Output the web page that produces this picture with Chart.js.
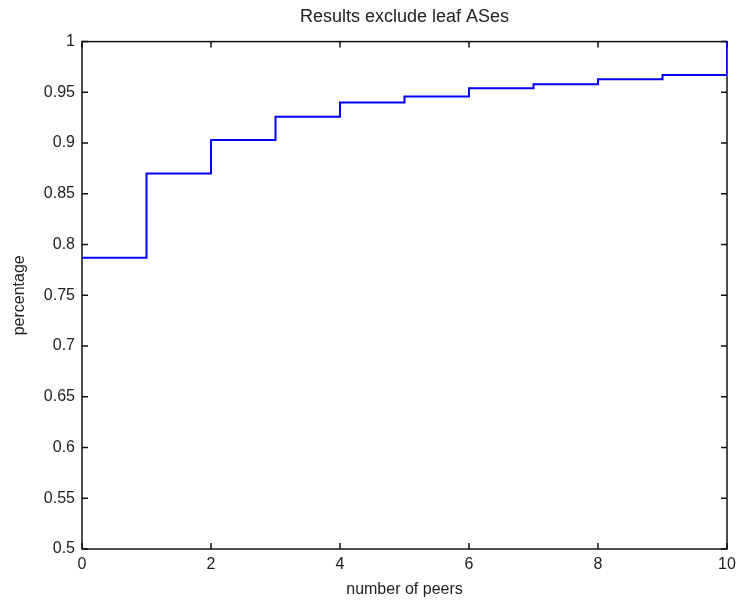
<!DOCTYPE html>
<html>
<head>
<meta charset="utf-8">
<script src="https://cdn.jsdelivr.net/npm/chart.js@4.4.0/dist/chart.umd.min.js"></script>
<style>
  html, body { margin: 0; padding: 0; background: #fff; }
  #wrap { width: 738px; height: 601px; }
</style>
</head>
<body>
<div id="wrap"><canvas id="peerChart" width="738" height="601"></canvas></div>
<script>
// values
const peers = [0, 1, 2, 3, 4, 5, 6, 7, 8, 9, 10];
const share = [0.787, 0.870, 0.903, 0.926, 0.940, 0.946, 0.954, 0.958, 0.963, 0.967, 1.0];
const xTicks = [0, 2, 4, 6, 8, 10];
const yTicks = [0.5, 0.55, 0.6, 0.65, 0.7, 0.75, 0.8, 0.85, 0.9, 0.95, 1];

const txt = '#222';
const fontName = '"Liberation Sans", Arial, Helvetica, sans-serif';

// box round the plot with inward ticks on all four sides, matlab style
const frame = {
    id: 'frame',
    beforeDatasetsDraw(chart) {
        const { ctx, chartArea: a, scales } = chart;
        const len = 6;
        ctx.save();
        ctx.strokeStyle = '#111';
        ctx.lineWidth = 1.5;
        ctx.strokeRect(a.left, a.top, a.right - a.left, a.bottom - a.top);
        ctx.beginPath();
        xTicks.forEach(v => {
            const px = scales.x.getPixelForValue(v);
            ctx.moveTo(px, a.bottom); ctx.lineTo(px, a.bottom - len);
            ctx.moveTo(px, a.top); ctx.lineTo(px, a.top + len);
        });
        yTicks.forEach(v => {
            const py = scales.y.getPixelForValue(v);
            ctx.moveTo(a.left, py); ctx.lineTo(a.left + len, py);
            ctx.moveTo(a.right, py); ctx.lineTo(a.right - len, py);
        });
        ctx.stroke();
        ctx.restore();
    }
};

new Chart(document.getElementById('peerChart'), {
    type: 'line',
    data: {
        datasets: [{
            data: peers.map((p, i) => ({ x: p, y: share[i] })),
            borderColor: '#0000ff',
            borderWidth: 2,
            pointRadius: 0,
            stepped: 'before',
            fill: false
        }]
    },
    options: {
        responsive: false,
        animation: false,
        layout: { padding: { left: 0, right: 11, top: 0, bottom: 0 } },
        plugins: {
            legend: { display: false },
            tooltip: { enabled: false },
            title: {
                display: true,
                text: 'Results exclude leaf ASes',
                fullSize: false,
                color: txt,
                font: { family: fontName, size: 18, weight: 'normal' },
                padding: { top: 6, bottom: 14 }
            }
        },
        scales: {
            x: {
                type: 'linear',
                min: 0,
                max: 10,
                afterBuildTicks: s => { s.ticks = xTicks.map(v => ({ value: v })); },
                afterFit: s => { s.height = 52; s.paddingLeft = 0; s.paddingRight = 0; },
                grid: { display: false, drawTicks: false },
                border: { display: false },
                ticks: { color: txt, font: { family: fontName, size: 16 }, padding: 6, maxRotation: 0 },
                title: {
                    display: true,
                    text: 'number of peers',
                    color: txt,
                    font: { family: fontName, size: 16 },
                    padding: { top: 0, bottom: 2 }
                }
            },
            y: {
                min: 0.5,
                max: 1,
                afterBuildTicks: s => { s.ticks = yTicks.map(v => ({ value: v })); },
                afterFit: s => { s.width = 82; s.paddingTop = 0; s.paddingBottom = 0; },
                grid: { display: false, drawTicks: false },
                border: { display: false },
                ticks: {
                    color: txt,
                    font: { family: fontName, size: 16 },
                    padding: 7,
                    callback: v => String(+v.toFixed(2))
                },
                title: {
                    display: true,
                    text: 'percentage',
                    color: txt,
                    font: { family: fontName, size: 16 },
                    padding: { top: 10, bottom: 0 }
                }
            }
        }
    },
    plugins: [frame]
});
</script>
</body>
</html>
